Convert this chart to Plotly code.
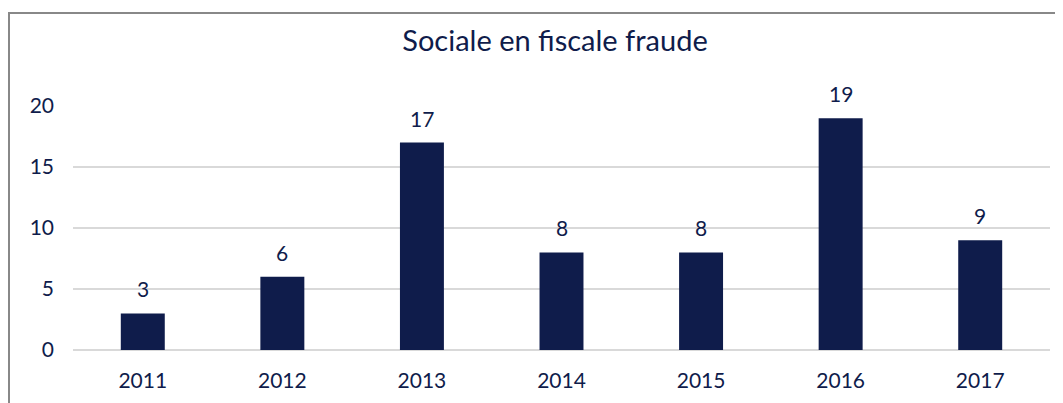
import plotly.graph_objects as go

years = ["2011", "2012", "2013", "2014", "2015", "2016", "2017"]
values = [3, 6, 17, 8, 8, 19, 9]
title_text = "Sociale en fiscale fraude"

navy = "#0F1C4B"
font_family = "Lato, 'Open Sans', sans-serif"

W, H = 1055, 395  # page body has an 8px margin
L, R, T, B = 65, 13, 98, 53
pw, ph = W - L - R, H - T - B

fig = go.Figure(go.Bar(
    x=years, y=values,
    marker=dict(color=navy, line=dict(width=0)),
    cliponaxis=False,
))

annotations = [dict(x=i, y=v, xref="x", yref="y", text=str(v), showarrow=False,
                    yanchor="bottom", yshift=10,
                    font=dict(color=navy, size=21, family=font_family))
               for i, v in enumerate(values)]

fig.update_layout(
    width=W, height=H,
    margin=dict(l=L, r=R, t=T, b=B),
    paper_bgcolor="white", plot_bgcolor="white",
    bargap=0.685,
    showlegend=False,
    title=dict(text=title_text, x=547 / W, xanchor="center", y=1 - 33 / H, yanchor="middle",
               font=dict(color=navy, size=29, family=font_family)),
    font=dict(family=font_family, color=navy),
    xaxis=dict(type="category", range=[-0.5, len(years) - 0.5],
               tickfont=dict(size=21, color=navy), showgrid=False, showline=False,
               ticks="", ticklabelstandoff=16),
    yaxis=dict(range=[0, 20], tickvals=[0, 5, 10, 15, 20], tickfont=dict(size=21, color=navy),
               showgrid=True, gridcolor="#D9D9D9", gridwidth=1.5, zeroline=True,
               zerolinecolor="#D9D9D9", zerolinewidth=1.5, ticks="", ticklabelstandoff=18),
    annotations=annotations,
    shapes=[dict(type="rect", xref="paper", yref="paper",
                 x0=(1 - L) / pw, x1=1.2, y0=-0.5, y1=(H - B - 5) / ph,
                 line=dict(color="#888888", width=2), fillcolor="rgba(0,0,0,0)", layer="below")],
)

fig.write_html("out.html")
